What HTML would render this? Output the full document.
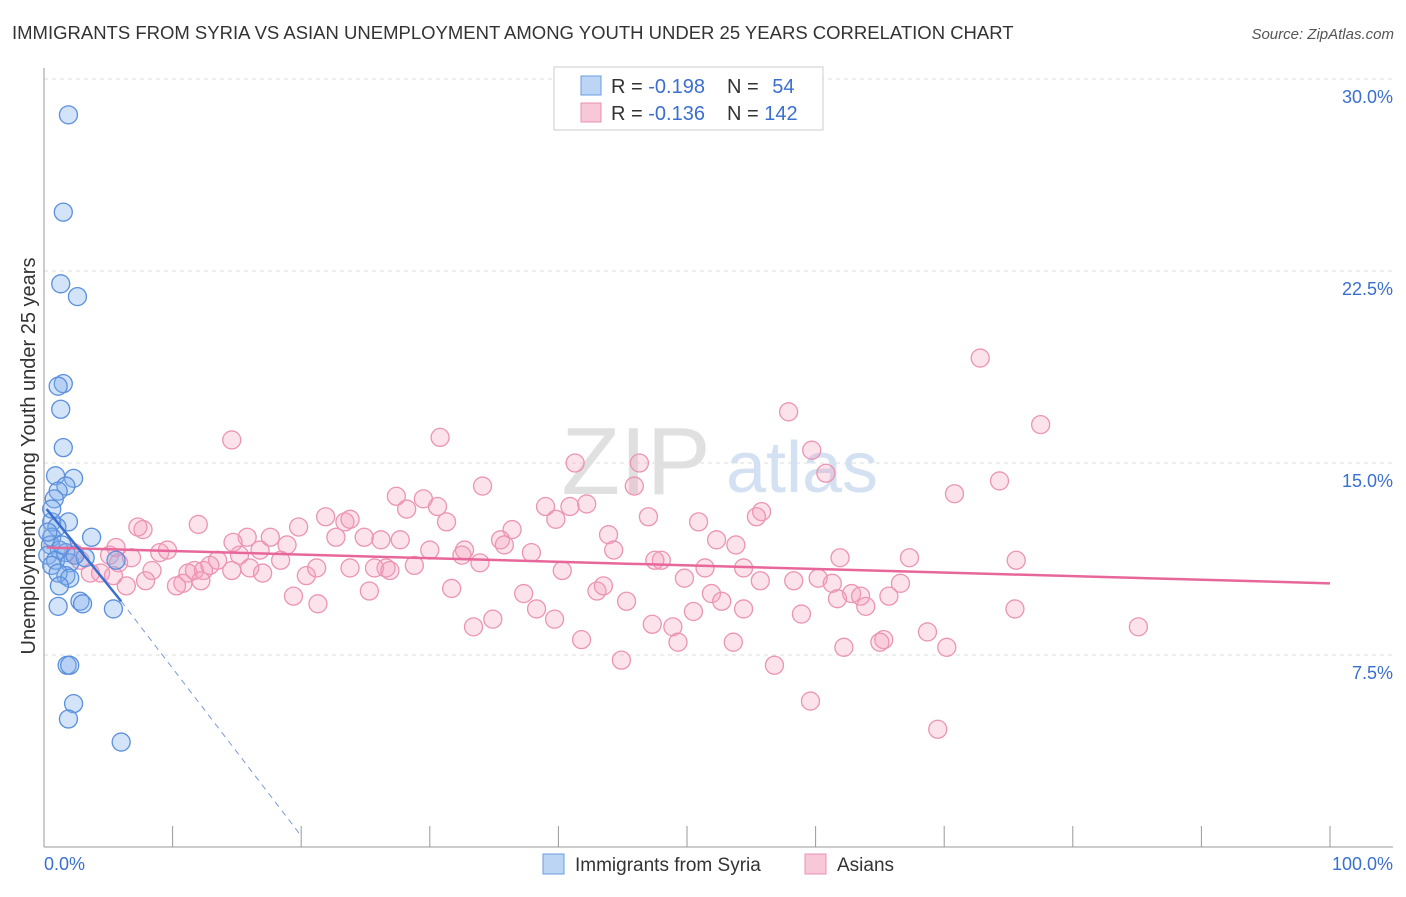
<!DOCTYPE html>
<html><head><meta charset="utf-8"><style>
body{margin:0;background:#fff;font-family:"Liberation Sans",sans-serif}
svg text{font-family:"Liberation Sans",sans-serif}
</style></head><body>
<svg id="c" width="1406" height="892" xmlns="http://www.w3.org/2000/svg">
<text x="12" y="39" font-size="18.5" fill="#333">IMMIGRANTS FROM SYRIA VS ASIAN UNEMPLOYMENT AMONG YOUTH UNDER 25 YEARS CORRELATION CHART</text>
<text x="1394" y="39" font-size="15" fill="#555" font-style="italic" text-anchor="end">Source: ZipAtlas.com</text>
<text x="35" y="456" font-size="20" fill="#333" text-anchor="middle" transform="rotate(-90 35 456)">Unemployment Among Youth under 25 years</text>
<g id="grid"></g>
<g id="axes"></g>
<text x="636" y="494" font-size="96" fill="#e0e0e0" font-family="Liberation Serif" text-anchor="middle">ZIP</text>
<text x="802" y="492" font-size="72" fill="#d3e1f3" text-anchor="middle">atlas</text>
<g id="pink"></g>
<g id="blue"></g>
<g id="trends"></g>
<g>
<rect x="554" y="67" width="269" height="63" fill="#fff" stroke="#ccc"/>
<rect x="581" y="76" width="20" height="19" fill="#bcd5f5" stroke="#6a9be0"/>
<rect x="581" y="103" width="20" height="19" fill="#f9c8d8" stroke="#e890b0"/>
<text x="611" y="93" font-size="20" fill="#333">R = <tspan fill="#3a6fd0">-0.198</tspan></text>
<text x="727" y="93" font-size="20" fill="#333">N = <tspan fill="#3a6fd0" dx="8">54</tspan></text>
<text x="611" y="120" font-size="20" fill="#333">R = <tspan fill="#3a6fd0">-0.136</tspan></text>
<text x="727" y="120" font-size="20" fill="#333">N = <tspan fill="#3a6fd0">142</tspan></text>
</g>
<g>
<rect x="543" y="854" width="21" height="20" fill="#bcd5f5" stroke="#6a9be0"/>
<text x="575" y="871" font-size="19" fill="#333">Immigrants from Syria</text>
<rect x="805" y="854" width="21" height="20" fill="#f9c8d8" stroke="#e890b0"/>
<text x="837" y="871" font-size="19" fill="#333">Asians</text>
</g>
</svg>
<script>
const yTicks=[7.5,15,22.5,30];
const yTickLabels=["7.5%","15.0%","22.5%","30.0%"];
const xTicks=[0,10,20,30,40,50,60,70,80,90,100];
const blueX=[1.9,1.5,1.3,2.6,1.5,1.1,1.3,1.5,0.9,2.3,1.7,1.1,0.8,1.9,0.6,1.0,3.7,0.6,0.5,1.2,0.3,1.7,0.9,2.0,3.2,5.6,0.6,1.7,1.1,2.0,1.2,2.8,3.0,1.1,5.4,1.8,2.0,2.3,1.9,6.0,0.6,1.4,2.4,0.3];
const blueY=[28.6,24.8,22.0,21.5,18.1,18.0,17.1,15.6,14.5,14.4,14.1,13.9,13.6,12.7,12.7,12.5,12.1,12.1,11.8,11.6,11.4,11.5,11.2,11.1,11.3,11.2,11.0,10.6,10.7,10.5,10.2,9.6,9.5,9.4,9.3,7.1,7.1,5.6,5.0,4.1,13.2,11.8,11.4,12.3];
const pinkX=[72.8,77.5,14.6,30.8,57.9,59.7,46.3,41.3,45.9,34.1,60.8,74.3,70.8,27.4,29.5,28.2,30.6,39.0,40.9,42.2,39.8,55.8,55.4,47.0,50.9,31.3,21.9,23.4,23.8,19.8,12.0,7.7,7.3,36.4,43.9,52.3,53.8,35.5,35.8,37.9,44.3,26.2,27.7,24.9,22.7,15.8,17.6,18.9,30.0,32.7,9.0,9.6,6.8,15.2,13.5,16.8,12.9,75.6,67.3,61.9,48.0,47.5,51.4,54.4,40.3,33.9,32.5,26.6,25.7,26.9,28.8,18.4,16.0,17.0,14.6,20.4,21.2,23.8,11.7,11.2,12.4,8.4,7.9,6.4,5.1,5.8,4.4,3.6,5.4,2.3,2.8,10.8,10.3,12.2,49.8,55.7,58.3,60.2,61.3,62.8,66.6,65.7,63.5,61.7,63.9,43.0,43.5,37.3,31.7,25.3,19.4,21.3,45.3,51.9,52.7,50.5,54.4,58.9,75.5,38.3,39.7,34.9,33.4,47.3,48.9,49.3,41.8,53.6,65.3,65.0,68.7,70.2,62.2,44.9,56.8,59.6,69.5,85.1,5.6,14.7];
const pinkY=[19.1,16.5,15.9,16.0,17.0,15.5,15.0,15.0,14.1,14.1,14.6,14.3,13.8,13.7,13.6,13.2,13.3,13.3,13.3,13.4,12.8,13.1,12.9,12.9,12.7,12.7,12.9,12.7,12.8,12.5,12.6,12.4,12.5,12.4,12.2,12.0,11.8,12.0,11.8,11.5,11.6,12.0,12.0,12.1,12.1,12.1,12.1,11.8,11.6,11.6,11.5,11.6,11.3,11.4,11.2,11.6,11.0,11.2,11.3,11.3,11.2,11.2,10.9,10.9,10.8,11.1,11.4,10.9,10.9,10.8,11.0,11.2,10.9,10.7,10.8,10.6,10.9,10.9,10.8,10.7,10.8,10.8,10.4,10.2,11.4,11.1,10.7,10.7,10.6,11.5,11.2,10.3,10.2,10.4,10.5,10.4,10.4,10.5,10.3,9.9,10.3,9.8,9.8,9.7,9.4,10.0,10.2,9.9,10.1,10.0,9.8,9.5,9.6,9.9,9.6,9.2,9.3,9.1,9.3,9.3,8.9,8.9,8.6,8.7,8.6,8.0,8.1,8.0,8.1,8.0,8.4,7.8,7.8,7.3,7.1,5.7,4.6,8.6,11.7,11.9];
const blueTrendX=[0.2,6.0,19.9];
const blueTrendY=[13.2,9.6,0.5];
const pinkTrendX=[0.2,100];
const pinkTrendY=[11.7,10.3];
const NS="http://www.w3.org/2000/svg";
const sx=v=>44+v*12.86, sy=v=>847-v*25.6;
function mk(t,a,p){const e=document.createElementNS(NS,t);for(const k in a)e.setAttribute(k,a[k]);p.appendChild(e);return e;}
const grid=document.getElementById('grid'),axes=document.getElementById('axes');
yTicks.forEach((v,i)=>{
 const l=mk('line',{x1:44,x2:1393,y1:sy(v),y2:sy(v),stroke:'#ddd','stroke-dasharray':'4,4'},grid);
 
 
 const t=mk('text',{x:1393,y:sy(v)+24,'font-size':18,fill:'#3a6fd0','text-anchor':'end'},axes);
 t.textContent=yTickLabels[i];
 
 
});
const ax=mk('line',{x1:44,x2:44,y1:68,y2:847,stroke:'#999'},axes);


const bx=mk('line',{x1:44,x2:1393,y1:847,y2:847,stroke:'#999'},axes);


xTicks.forEach(v=>{
 const l=mk('line',{x1:sx(v),x2:sx(v),y1:826,y2:847,stroke:'#999'},axes);
 
 
});
const xl=mk('text',{x:44,y:870,'font-size':18,fill:'#3a6fd0'},axes);xl.textContent='0.0%';


const xr=mk('text',{x:1393,y:870,'font-size':18,fill:'#3a6fd0','text-anchor':'end'},axes);xr.textContent='100.0%';


const pg=document.getElementById('pink');
pinkX.forEach((x,i)=>{
 const c=mk('circle',{cx:sx(x),cy:sy(pinkY[i]),r:9,fill:'rgba(244,160,190,0.3)',stroke:'#eb94b3','stroke-width':1.3},pg);
 
 
});
const bg=document.getElementById('blue');
blueX.forEach((x,i)=>{
 const c=mk('circle',{cx:sx(x),cy:sy(blueY[i]),r:9,fill:'rgba(130,175,235,0.35)',stroke:'#5a8fdc','stroke-width':1.3},bg);
 
 
});
const tg=document.getElementById('trends');
const pt=mk('line',{x1:sx(pinkTrendX[0]),y1:sy(pinkTrendY[0]),x2:sx(pinkTrendX[1]),y2:sy(pinkTrendY[1]),stroke:'#e8679a','stroke-width':2.5},tg);


const bt=mk('line',{x1:sx(blueTrendX[0]),y1:sy(blueTrendY[0]),x2:sx(blueTrendX[1]),y2:sy(blueTrendY[1]),stroke:'#3a6fd0','stroke-width':2.5},tg);


const bd=mk('line',{x1:sx(blueTrendX[1]),y1:sy(blueTrendY[1]),x2:sx(blueTrendX[2]),y2:sy(blueTrendY[2]),stroke:'#7a9bd0','stroke-width':1,'stroke-dasharray':'6,5'},tg);


</script>
</body></html>
